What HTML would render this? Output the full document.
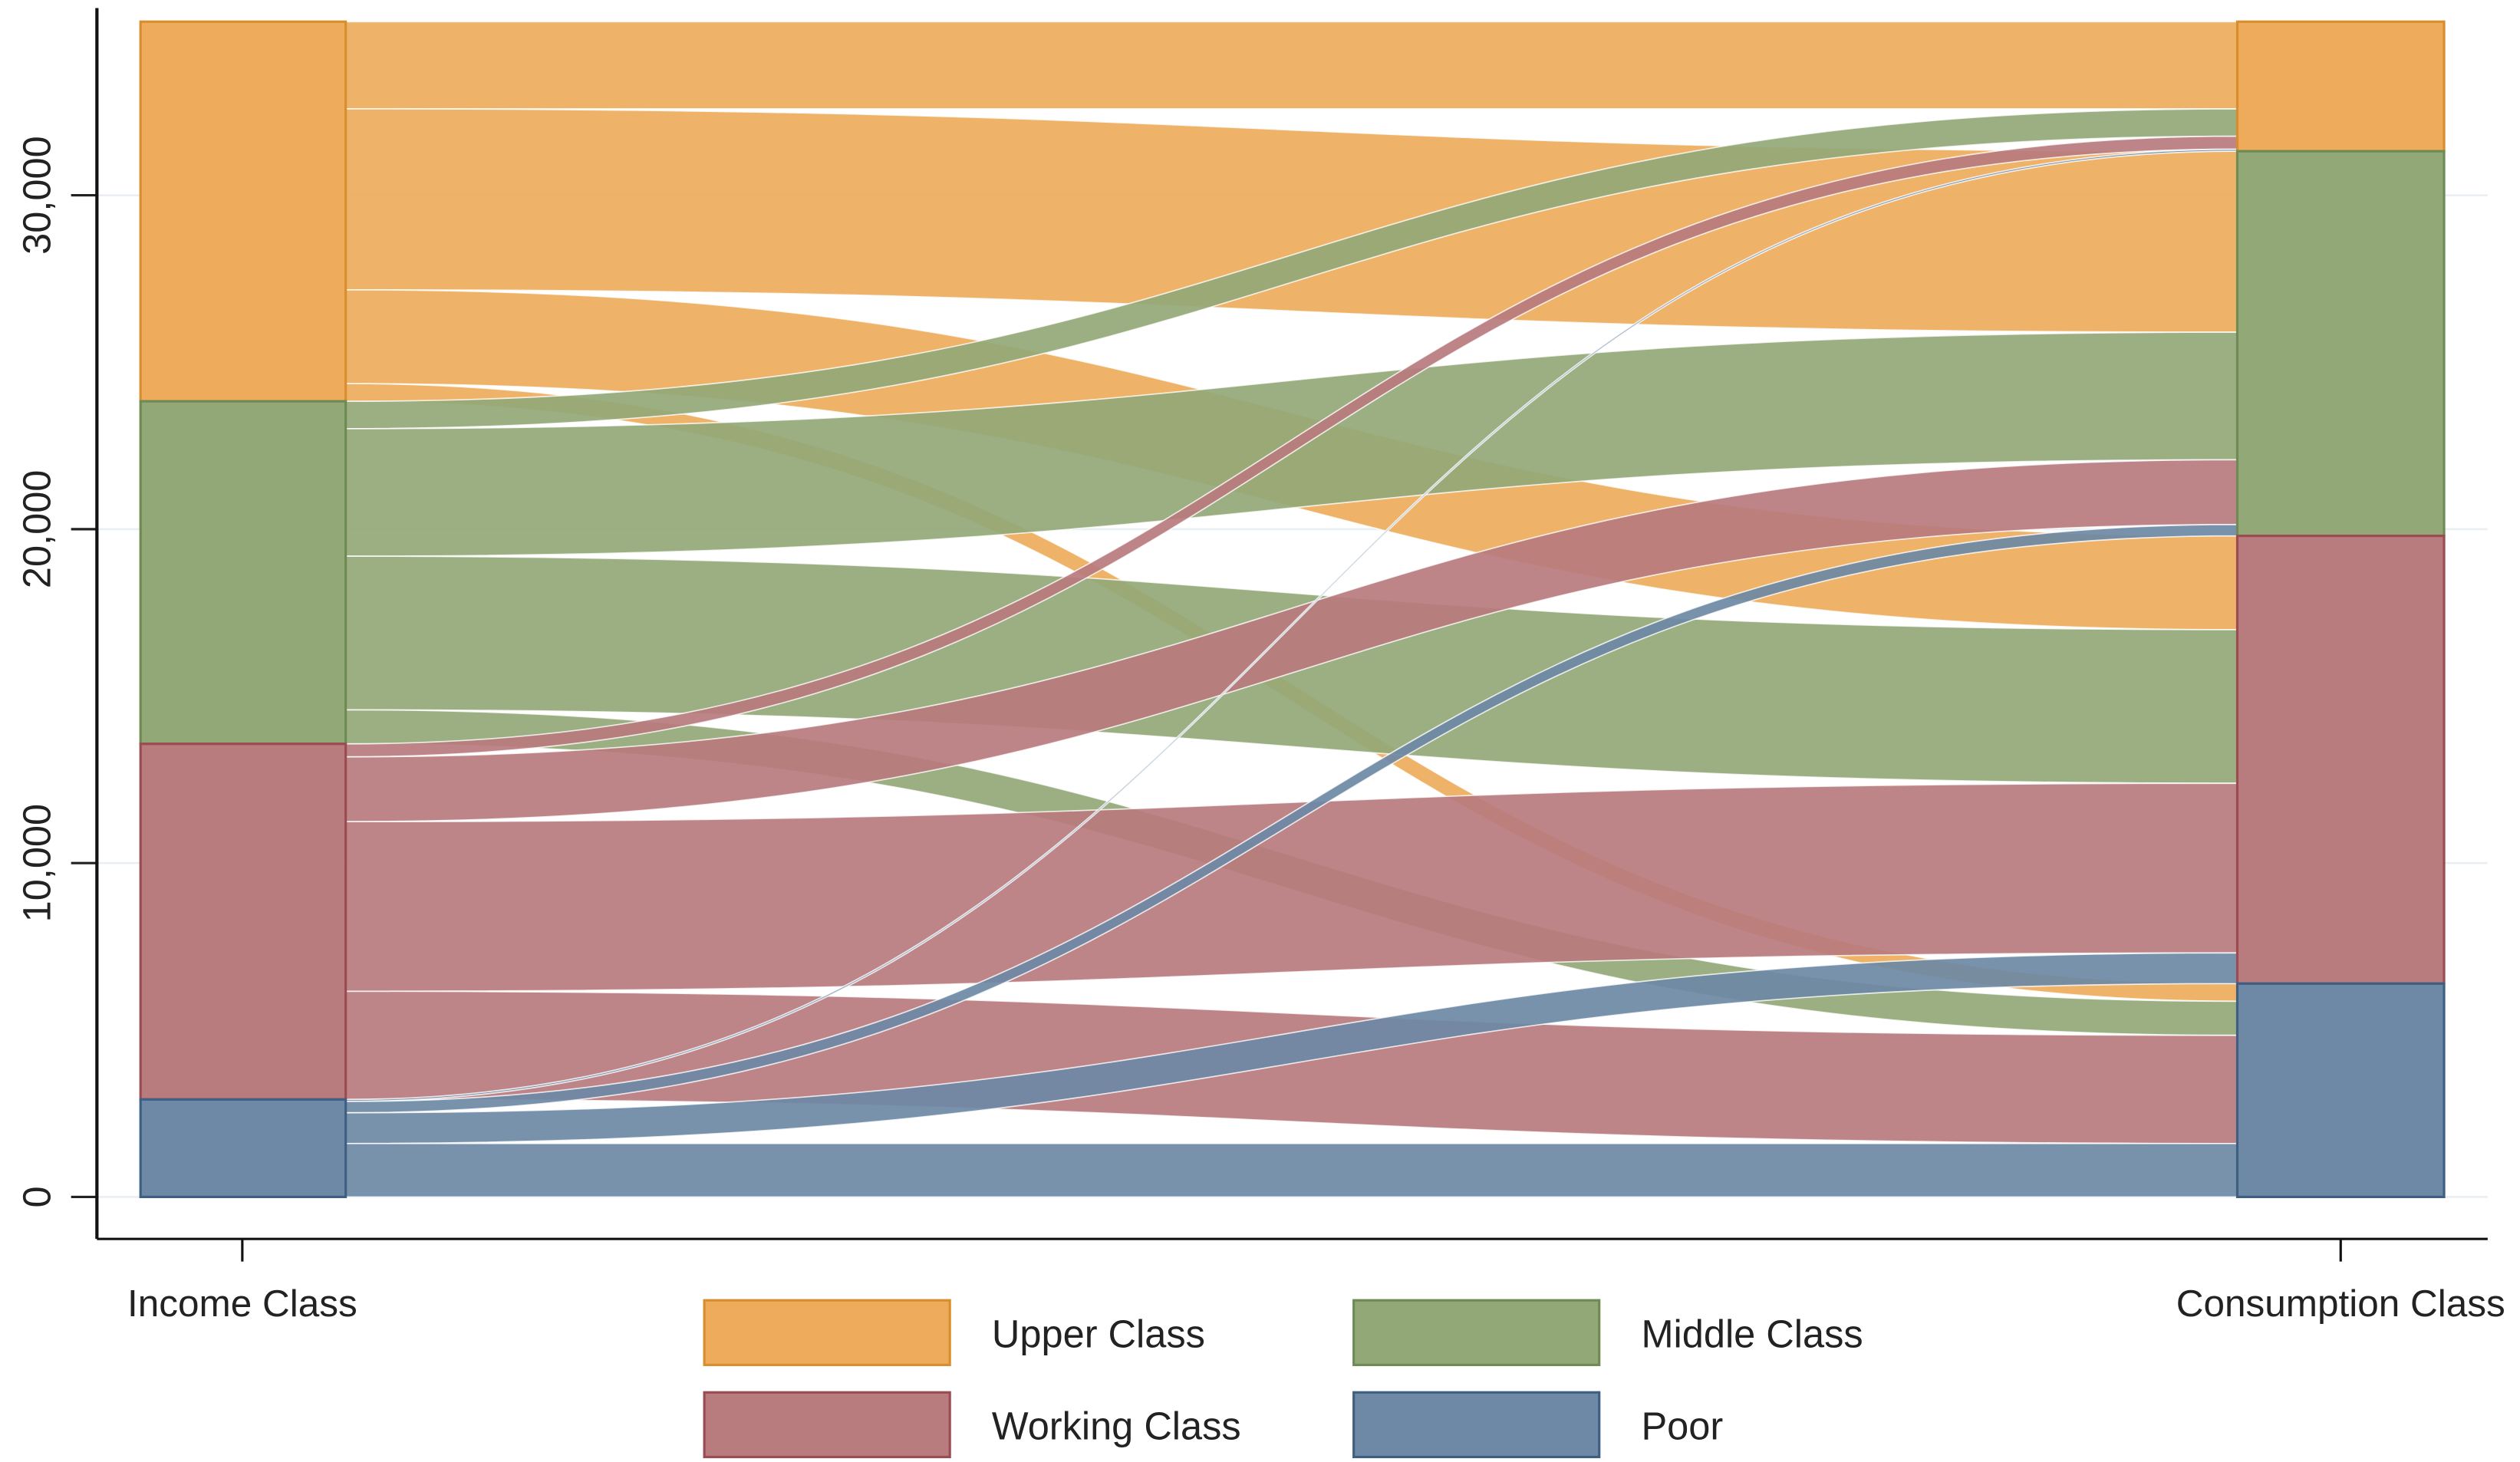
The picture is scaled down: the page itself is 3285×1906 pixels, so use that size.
<!DOCTYPE html>
<html><head><meta charset="utf-8"><style>
html,body{margin:0;padding:0;background:#fff;}
svg{display:block;}
text{font-family:"Liberation Sans",Arial,sans-serif;fill:#222;}
</style></head><body>
<svg id="chart" width="3285" height="1906" viewBox="0 0 1560 905.1" preserveAspectRatio="none" xmlns="http://www.w3.org/2000/svg">
<g id="grid"></g>
<g id="flows"></g>
<g id="nodes"></g>
<g id="axes"></g>
<g id="legend"></g>
</svg>
<script>
const categories = ["Upper Class", "Middle Class", "Working Class", "Poor"];
const axisLabels = ["Income Class", "Consumption Class"];
const yTicks = [0, 10000, 20000, 30000];
const yTickLabels = ["0", "10,000", "20,000", "30,000"];
// flows from income class (row) to consumption class (columns: upper, middle, working, poor)
const fromUpper = [2610, 5420, 2810, 530];
const fromMiddle = [820, 3820, 4600, 1020];
const fromWorking = [390, 1940, 5080, 3240];
const fromPoor = [60, 340, 920, 1600];

const flowRows = [fromUpper, fromMiddle, fromWorking, fromPoor];
const fills = ["#EDAB5B", "#92A877", "#B87B7E", "#6E89A5"];
const strokes = ["#D98E2E", "#6E8A55", "#9A4C52", "#3F5F82"];
const NS = "http://www.w3.org/2000/svg";
const X0 = 60, X1 = 1540, Yb = 741, PX = 0.02067;
const y = v => Yb - v * PX;
const leftX0 = 87, leftX1 = 214, rightX0 = 1385, rightX1 = 1513;
function mk(tag, attrs, parent) {
  const e = document.createElementNS(NS, tag);
  for (const k in attrs) e.setAttribute(k, attrs[k]);
  parent.appendChild(e); return e;
}
const grid = document.getElementById('grid'), flows = document.getElementById('flows'),
  nodes = document.getElementById('nodes'), axes = document.getElementById('axes'), legend = document.getElementById('legend');

yTicks.forEach((t, i) => {
  const g = mk('line', {x1: X0, x2: X1, y1: y(t), y2: y(t), stroke: '#e9eef2', 'stroke-width': 1.2}, grid);
  
  
  const tk = mk('line', {x1: 44, x2: X0, y1: y(t), y2: y(t), stroke: '#222', 'stroke-width': 1.5}, axes);
  
  
  const tx = mk('text', {x: 0, y: 0, 'font-size': 24, 'text-anchor': 'middle', transform: `translate(31,${y(t)}) rotate(-90)`}, axes);
  tx.textContent = yTickLabels[i];
  
  
});

const totalsLeft = flowRows.map(r => r.reduce((a, b) => a + b, 0));
const totalsRight = categories.map((c, j) => flowRows.reduce((a, r) => a + r[j], 0));
const grand = totalsLeft.reduce((a, b) => a + b, 0);
let lTop = [], rTop = [], acc = grand;
totalsLeft.forEach((t, i) => { lTop[i] = acc; acc -= t; });
acc = grand; totalsRight.forEach((t, j) => { rTop[j] = acc; acc -= t; });

const lCur = lTop.slice();
const segs = [];
for (let i = 0; i < 4; i++) for (let j = 0; j < 4; j++) {
  const v = flowRows[i][j];
  segs.push({i, j, l0: lCur[i], r0: 0, v});
  lCur[i] -= v;
}
for (let j = 0; j < 4; j++) { let c = rTop[j]; for (let i = 0; i < 4; i++) { const s = segs.find(s => s.i === i && s.j === j); s.r0 = c; c -= s.v; } }
const xm = (leftX1 + rightX0) / 2;
segs.forEach(s => {
  const a0 = y(s.l0), a1 = y(s.l0 - s.v), b0 = y(s.r0), b1 = y(s.r0 - s.v);
  const d = `M${leftX1},${a0} C${xm},${a0} ${xm},${b0} ${rightX0},${b0} L${rightX0},${b1} C${xm},${b1} ${xm},${a1} ${leftX1},${a1} Z`;
  const p = mk('path', {d, fill: fills[s.i], 'fill-opacity': 0.92, stroke: '#fff', 'stroke-width': 0.8, 'stroke-opacity': 0.8}, flows);
  
  
});
for (let i = 0; i < 4; i++) {
  const r = mk('rect', {x: leftX0, y: y(lTop[i]), width: leftX1 - leftX0, height: totalsLeft[i] * PX, fill: fills[i], stroke: strokes[i], 'stroke-width': 1.5}, nodes);
  
  
  const r2 = mk('rect', {x: rightX0, y: y(rTop[i]), width: rightX1 - rightX0, height: totalsRight[i] * PX, fill: fills[i], stroke: strokes[i], 'stroke-width': 1.5}, nodes);
  
  
}
const ya = mk('line', {x1: X0, x2: X0, y1: 5, y2: 767, stroke: '#111', 'stroke-width': 2}, axes);


const xa = mk('line', {x1: X0, x2: X1, y1: 767, y2: 767, stroke: '#111', 'stroke-width': 1.5}, axes);


[150, 1449].forEach((x, k) => {
  const t = mk('line', {x1: x, x2: x, y1: 767, y2: 781, stroke: '#111', 'stroke-width': 1.5}, axes);
  
  
  const tx = mk('text', {x, y: 815, 'font-size': 23.5, 'text-anchor': 'middle'}, axes);
  tx.textContent = axisLabels[k];
  
  
});
const lp = [[436, 805], [838, 805], [436, 862], [838, 862]];
[0, 1, 2, 3].forEach((c, k) => {
  const [lx, ly] = lp[k];
  const g = mk('g', {}, legend);
  
  
  mk('rect', {x: lx, y: ly, width: 152, height: 40, fill: fills[c], stroke: strokes[c], 'stroke-width': 1.5}, g);
  const t = mk('text', {x: lx + 178, y: ly + 29, 'font-size': 24}, g);
  t.textContent = categories[c];
});
</script>
</body></html>
